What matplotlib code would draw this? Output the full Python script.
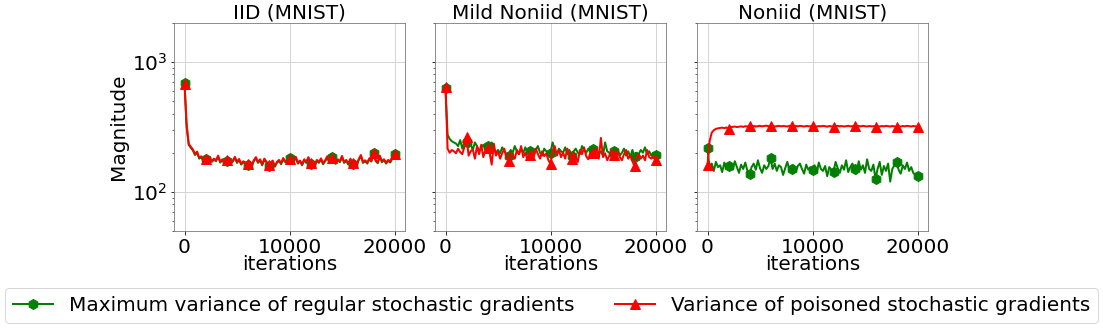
import numpy as np
import matplotlib
matplotlib.use("Agg")
import matplotlib.pyplot as plt

iterations = list(range(0, 20001, 200))

titles = ["IID (MNIST)", "Mild Noniid (MNIST)", "Noniid (MNIST)"]
label_regular = "Maximum variance of regular stochastic gradients"
label_poison = "Variance of poisoned stochastic gradients"

iid_regular = [690, 320, 230, 218, 208, 192, 200, 180, 184, 173,
               180, 167, 181, 170, 177, 172, 186, 168, 175, 166,
               173, 178, 165, 171, 182, 167, 175, 162, 169, 165,
               162, 169, 158, 172, 181, 167, 174, 160, 176, 168,
               158, 165, 171, 156, 167, 173, 163, 178, 169, 166,
               182, 168, 173, 182, 165, 171, 160, 175, 167, 181,
               165, 169, 158, 173, 167, 177, 163, 172, 184, 166,
               185, 171, 164, 175, 169, 185, 167, 173, 162, 176,
               163, 170, 160, 176, 188, 167, 172, 165, 177, 171,
               200, 173, 166, 186, 169, 175, 165, 173, 168, 181,
               197]
iid_poison = [680, 330, 235, 222, 212, 196, 204, 183, 188, 176,
              178, 170, 185, 172, 180, 175, 190, 171, 178, 169,
              176, 182, 168, 174, 186, 170, 179, 165, 172, 168,
              165, 172, 160, 175, 185, 170, 178, 163, 180, 171,
              162, 168, 174, 158, 170, 176, 166, 182, 172, 169,
              180, 171, 176, 186, 168, 174, 163, 178, 170, 185,
              168, 172, 160, 176, 170, 181, 166, 175, 188, 169,
              182, 174, 167, 178, 172, 189, 170, 176, 165, 180,
              166, 173, 162, 179, 192, 170, 175, 168, 181, 174,
              198, 176, 169, 190, 172, 178, 168, 176, 171, 185,
              195]

mild_regular = [630, 275, 255, 245, 240, 235, 225, 250, 215, 238,
                240, 220, 232, 210, 240, 225, 205, 218, 230, 212,
                225, 205, 240, 215, 200, 210, 198, 220, 205, 195,
                190, 210, 200, 225, 205, 195, 215, 200, 220, 198,
                205, 215, 195, 210, 225, 200, 190, 215, 205, 198,
                200, 240, 210, 195, 215, 205, 200, 220, 195, 210,
                188, 205, 215, 200, 195, 225, 210, 200, 215, 205,
                215, 220, 210, 195, 205, 190, 240, 205, 200, 185,
                205, 195, 210, 190, 200, 215, 190, 205, 185, 210,
                185, 200, 195, 210, 200, 220, 195, 205, 190, 200,
                193]
mild_poison = [637, 215, 200, 210, 205, 198, 215, 202, 195, 222,
               266, 190, 205, 212, 180, 225, 195, 230, 185, 208,
               218, 200, 162, 235, 190, 205, 180, 198, 215, 185,
               172, 200, 190, 180, 210, 195, 225, 185, 200, 178,
               193, 205, 185, 215, 195, 180, 205, 188, 198, 175,
               165, 205, 225, 190, 210, 185, 200, 180, 215, 195,
               179, 200, 185, 170, 210, 195, 220, 188, 178, 200,
               200, 190, 215, 180, 260, 185, 198, 175, 190, 210,
               193, 180, 205, 185, 175, 195, 210, 180, 190, 172,
               157, 185, 195, 180, 190, 175, 210, 185, 180, 190,
               177]

noniid_regular = [217, 150, 165, 145, 170, 155, 160, 142, 168, 150,
                  158, 165, 148, 172, 155, 140, 162, 150, 168, 145,
                  136, 155, 165, 148, 175, 152, 140, 160, 150, 158,
                  182, 150, 165, 145, 160, 155, 135, 152, 170, 148,
                  150, 160, 142, 158, 165, 150, 138, 162, 148, 155,
                  147, 160, 140, 168, 150, 145, 158, 132, 155, 148,
                  143, 170, 152, 140, 160, 148, 175, 142, 155, 165,
                  150, 138, 172, 148, 160, 140, 178, 150, 145, 162,
                  126, 150, 170, 135, 158, 145, 165, 120, 150, 160,
                  170, 148, 138, 160, 150, 168, 145, 155, 140, 135,
                  132]
noniid_poison = [160, 245, 285, 298, 305, 308, 310, 312, 309, 313,
                 303, 314, 316, 318, 315, 317, 319, 316, 320, 318,
                 322, 319, 321, 318, 320, 322, 319, 321, 323, 320,
                 319, 321, 318, 320, 322, 319, 321, 320, 318, 322,
                 320, 318, 321, 319, 322, 320, 318, 321, 320, 319,
                 321, 320, 318, 321, 319, 322, 320, 317, 321, 319,
                 318, 320, 322, 319, 321, 318, 320, 322, 319, 320,
                 320, 318, 321, 319, 322, 320, 318, 321, 319, 320,
                 317, 320, 318, 321, 319, 322, 320, 318, 321, 319,
                 316, 320, 318, 321, 319, 322, 320, 318, 321, 319,
                 318]

regular_series = [iid_regular, mild_regular, noniid_regular]
poison_series = [iid_poison, mild_poison, noniid_poison]

FS = 20
DPI = 72
W, H = 1103, 334
fig = plt.figure(figsize=(W / DPI, H / DPI), dpi=DPI)
lefts = [174, 435, 697]
axw, axtop, axbot = 231, 22.7, 231
axes = []
for i, l in enumerate(lefts):
    kw = {}
    if axes:
        kw["sharey"] = axes[0]
    ax = fig.add_axes([l / W, (H - axbot) / H, axw / W, (axbot - axtop) / H], **kw)
    axes.append(ax)

for i, ax in enumerate(axes):
    ax.plot(iterations, regular_series[i], color="green", lw=2, marker="h",
            markersize=10, markevery=10, label=label_regular)
    ax.plot(iterations, poison_series[i], color="red", lw=2, marker="^",
            markersize=10, markevery=10, label=label_poison)
    ax.set_yscale("log")
    ax.set_ylim(50, 2000)
    ax.set_xticks([0, 10000, 20000])
    ax.grid(True, which="major", color="#d4d4d4", lw=1)
    ax.set_axisbelow(True)
    ax.set_title(titles[i], fontsize=FS, pad=2)
    ax.set_xlabel("iterations", fontsize=FS, labelpad=-2)
    ax.tick_params(labelsize=FS)
    for s in ax.spines.values():
        s.set_color("0.45")
    if i > 0:
        ax.tick_params(labelleft=False)
axes[0].set_ylabel("Magnitude", fontsize=FS)

handles, labels = axes[0].get_legend_handles_labels()
fig.legend(handles, labels, loc="upper center", ncol=2, fontsize=FS,
           bbox_to_anchor=(0.5, (H - 288) / H), borderaxespad=0,
           columnspacing=2.0)

fig.savefig("out.png", dpi=DPI)
